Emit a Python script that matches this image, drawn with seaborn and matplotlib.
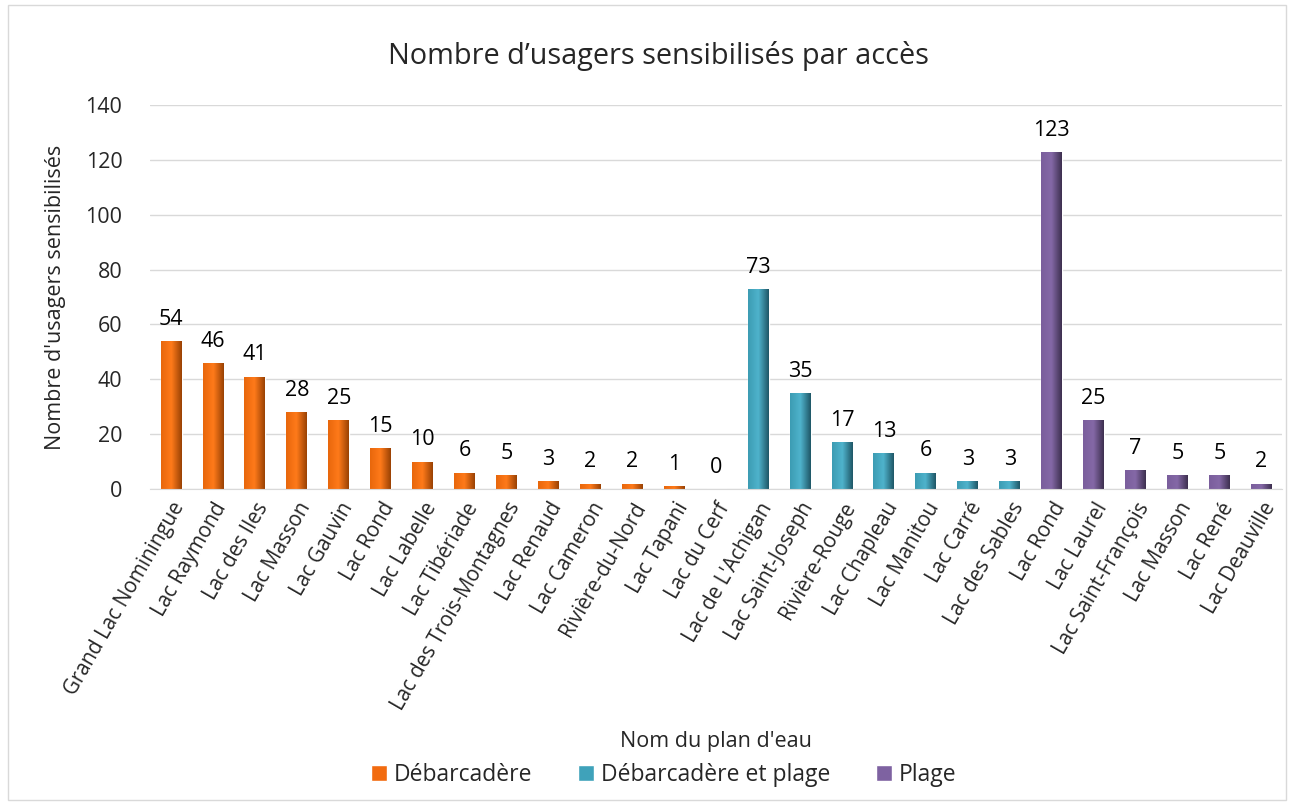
import numpy as np
import pandas as pd
import seaborn as sns
from matplotlib import pyplot as plt
from matplotlib.colors import LinearSegmentedColormap
from matplotlib.patches import Patch

# noms des plans d'eau, par type d'accès
noms_debarcadere = ['Grand Lac Nominingue', 'Lac Raymond', 'Lac des Iles', 'Lac Masson',
                    'Lac Gauvin', 'Lac Rond', 'Lac Labelle', 'Lac Tibériade',
                    'Lac des Trois-Montagnes', 'Lac Renaud', 'Lac Cameron',
                    'Rivière-du-Nord', 'Lac Tapani', 'Lac du Cerf']
val_debarcadere = [54, 46, 41, 28, 25, 15, 10, 6, 5, 3, 2, 2, 1, 0]

noms_mixte = ["Lac de L'Achigan", 'Lac Saint-Joseph', 'Rivière-Rouge', 'Lac Chapleau',
              'Lac Manitou', 'Lac Carré', 'Lac des Sables']
val_mixte = [73, 35, 17, 13, 6, 3, 3]

noms_plage = ['Lac Rond', 'Lac Laurel', 'Lac Saint-François', 'Lac Masson', 'Lac René',
              'Lac Deauville']
val_plage = [123, 25, 7, 5, 5, 2]

types = ['Débarcadère', 'Débarcadère et plage', 'Plage']
couleurs = {'Débarcadère': '#F26B0F', 'Débarcadère et plage': '#3FA2BA', 'Plage': '#7E62A1'}
# (clair, vif, sombre) pour le dégradé horizontal des barres
degrades = {'Débarcadère': ['#E8670C', '#FF7A1A', '#9A4204'],
            'Débarcadère et plage': ['#3C9CB3', '#4FB3CC', '#1F5767'],
            'Plage': ['#7A5E9C', '#8468A6', '#3E3050']}

noms = noms_debarcadere + noms_mixte + noms_plage
valeurs = val_debarcadere + val_mixte + val_plage
type_acces = ([types[0]] * len(noms_debarcadere) + [types[1]] * len(noms_mixte)
              + [types[2]] * len(noms_plage))

df = pd.DataFrame({'pos': range(len(noms)), 'nom': noms, 'valeur': valeurs, 'type': type_acces})

sns.set_style('white')
plt.rcParams['font.family'] = ['Open Sans', 'DejaVu Sans']

fig = plt.figure(figsize=(12.94, 8.05), dpi=100)
ax = fig.add_axes([0.116, 0.3925, 0.875, 0.477])

sns.barplot(data=df, x='pos', y='valeur', hue='type', hue_order=types, dodge=False,
            palette=couleurs, width=0.5, ax=ax, legend=False, saturation=1)

# dégradé horizontal sur chaque barre
for cont, t in zip(ax.containers, types):
    cmap = LinearSegmentedColormap.from_list(t, degrades[t])
    grad = np.linspace(0, 1, 64).reshape(1, -1)
    for p in cont:
        x0, y0 = p.get_x(), p.get_y()
        w, h = p.get_width(), p.get_height()
        if h <= 0:
            continue
        im = ax.imshow(grad, cmap=cmap, aspect='auto', extent=(x0, x0 + w, y0, y0 + h),
                       zorder=p.get_zorder() + 0.1)
        im.set_clip_path(p)
    ax.bar_label(cont, fmt='%d', padding=8, fontsize=15.5, color='#000000')

ax.set_xlim(-0.5, len(noms) - 0.5)
ax.set_ylim(0, 140)
ax.set_yticks(range(0, 141, 20))

ax.set_xticks(range(len(noms)))
ax.set_xticklabels(noms, rotation=60, ha='right', rotation_mode='anchor', fontsize=14.8)
ax.tick_params(axis='y', labelsize=15.5, length=0, pad=20)
ax.tick_params(axis='x', length=0, pad=7)

ax.yaxis.grid(True, color='#D9D9D9', linewidth=1)
ax.set_axisbelow(True)
for s in ['top', 'right', 'left']:
    ax.spines[s].set_visible(False)
ax.spines['bottom'].set_color('#D9D9D9')

ax.set_xlabel("Nom du plan d'eau", fontsize=15.5, labelpad=12)
ax.set_ylabel("Nombre d'usagers sensibilisés", fontsize=15.5, labelpad=14)
fig.text(0.509, 0.931, 'Nombre d\u2019usagers sensibilisés par accès', ha='center',
         va='center', fontsize=20.8)

handles = [Patch(facecolor=couleurs[t], label=t) for t in types]
fig.legend(handles=handles, loc='lower center', bbox_to_anchor=(0.513, -0.003), ncol=3,
           frameon=False, fontsize=16.5, handlelength=0.7, handleheight=0.7,
           handletextpad=0.3, columnspacing=2.0)

fig.patches.append(plt.Rectangle((0.006, 0.006), 0.988, 0.988, transform=fig.transFigure,
                                 fill=False, edgecolor='#D9D9D9', linewidth=1))

plt.savefig('out.png', dpi=100)
